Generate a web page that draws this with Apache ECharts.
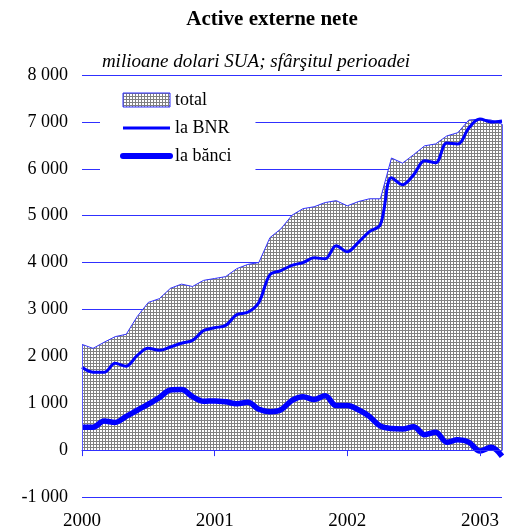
<!DOCTYPE html>
<html>
<head>
<meta charset="utf-8">
<script src="https://cdn.jsdelivr.net/npm/echarts@6/dist/echarts.min.js"></script>
<style>
html,body{margin:0;padding:0;background:#fff;}
#chart{width:511px;height:531px;}
</style>
</head>
<body>
<div id="chart"></div>
<script>
// End-of-month observations, Dec 1999 (index 0, at the "2000" tick) to Feb 2003
const yearLabels = ['2000', '2001', '2002', '2003'];
const yearTickIndex = [0, 12, 24, 36];
const seriesNames = ['total', 'la BNR', 'la bănci'];

const total = [2255, 2170, 2300, 2420, 2470, 2850, 3150, 3230, 3450, 3540,
  3490, 3620, 3660, 3700, 3870, 3960, 4000, 4530, 4720, 5010,
  5150, 5190, 5280, 5320, 5210, 5300, 5360, 5360, 6230, 6120,
  6300, 6490, 6530, 6700, 6770, 7040, 7060, 7040, 6950];

const laBNR = [1765, 1660, 1660, 1850, 1790, 2020, 2170, 2130, 2200, 2280,
  2340, 2550, 2610, 2660, 2890, 2940, 3150, 3740, 3830, 3940,
  4000, 4100, 4080, 4360, 4230, 4430, 4660, 4810, 5810, 5660,
  5870, 6170, 6130, 6550, 6530, 6870, 7060, 7000, 7020];

const laBanci = [490, 490, 620, 590, 720, 850, 980, 1120, 1280, 1290,
  1140, 1040, 1050, 1030, 990, 1020, 870, 820, 860, 1060,
  1140, 1080, 1160, 950, 950, 860, 720, 510, 460, 450,
  500, 330, 380, 170, 220, 170, -20, 60, -130];

function pairs(arr) { return arr.map(function (v, i) { return [i, v]; }); }
function fmt(v) {
  const s = Math.abs(v).toString().replace(/\B(?=(\d{3})+(?!\d))/g, ' ');
  return (v < 0 ? '-' : '') + s;
}

// hatch pattern (fine grey grid)
const pc = document.createElement('canvas');
pc.width = 3; pc.height = 3;
const g = pc.getContext('2d');
g.fillStyle = '#ffffff'; g.fillRect(0, 0, 3, 3);
g.fillStyle = '#808080'; g.fillRect(0, 0, 3, 1); g.fillRect(0, 0, 1, 3);
const pattern = { image: pc, repeat: 'repeat' };

const FONT = '"Liberation Serif", "Times New Roman", serif';
const BLUE = '#0000ff';
const GRID_BLUE = '#3030ff';
const last = total.length - 1;

const chart = echarts.init(document.getElementById('chart'), null, { renderer: 'canvas' });
chart.setOption({
  animation: false,
  backgroundColor: '#fff',
  title: [
    { text: 'Active externe nete', left: 272, top: 9, textAlign: 'center', padding: 0,
      textStyle: { fontFamily: FONT, fontSize: 21, fontWeight: 'bold', color: '#000' } },
    { text: 'milioane dolari SUA; sfârşitul perioadei', left: 256, top: 52, textAlign: 'center', padding: 0,
      textStyle: { fontFamily: FONT, fontSize: 19, fontStyle: 'italic', fontWeight: 'normal', color: '#000' } }
  ],
  legend: {
    orient: 'vertical', left: 100, top: 81,
    padding: [10, 24, 10, 20],
    backgroundColor: '#fff',
    itemWidth: 47, itemHeight: 14, itemGap: 10,
    textStyle: { fontFamily: FONT, fontSize: 18, color: '#000' },
    data: [
      { name: seriesNames[0], icon: 'rect', itemStyle: { color: pattern, borderColor: GRID_BLUE, borderWidth: 1, opacity: 1 } },
      { name: seriesNames[1], itemStyle: { opacity: 0 }, lineStyle: { width: 3, color: BLUE } },
      { name: seriesNames[2], itemStyle: { opacity: 0 }, lineStyle: { width: 6, color: BLUE, cap: 'round' } }
    ]
  },
  grid: { left: 82, right: 9, top: 75, bottom: 33, containLabel: false },
  xAxis: [
    { type: 'value', min: 0, max: last, position: 'bottom',
      axisLine: { show: false, onZero: false },
      axisTick: { show: false },
      splitLine: { show: false },
      axisLabel: { customValues: yearTickIndex, margin: 15, fontFamily: FONT, fontSize: 19, color: '#000',
        formatter: function (v) { const k = yearTickIndex.indexOf(v); return k >= 0 ? yearLabels[k] : ''; } } },
    { type: 'value', min: 0, max: last, position: 'top', z: 5,
      axisLine: { show: true, onZero: true, lineStyle: { color: GRID_BLUE, width: 1 } },
      axisTick: { show: true, inside: true, length: 6, customValues: yearTickIndex, lineStyle: { color: GRID_BLUE, width: 1 } },
      axisLabel: { show: false },
      splitLine: { show: false } }
  ],
  yAxis: {
    type: 'value', min: -1000, max: 8000, interval: 1000,
    axisLine: { show: false }, axisTick: { show: false },
    splitLine: { show: true, lineStyle: { color: GRID_BLUE, width: 1 } },
    axisLabel: { margin: 14, fontFamily: FONT, fontSize: 18, color: '#000', formatter: fmt }
  },
  series: [
    { name: seriesNames[0], type: 'line', data: pairs(total), symbol: 'none', z: 1,
      lineStyle: { color: '#3333ff', width: 1 },
      itemStyle: { color: '#3333ff' },
      areaStyle: { color: pattern, opacity: 1 },
      markLine: { silent: true, symbol: 'none', label: { show: false },
        lineStyle: { color: '#5a5aff', width: 1, type: 'solid' },
        data: [
          [{ coord: [0, 0] }, { coord: [0, total[0]] }],
          [{ coord: [last, 0] }, { coord: [last, total[last]] }]
        ] } },
    { name: seriesNames[1], type: 'line', data: pairs(laBNR), symbol: 'none', smooth: 0.35, z: 3,
      lineStyle: { color: BLUE, width: 3 }, itemStyle: { color: BLUE } },
    { name: seriesNames[2], type: 'line', data: pairs(laBanci), symbol: 'none', smooth: 0.35, z: 4,
      lineStyle: { color: BLUE, width: 5.5 }, itemStyle: { color: BLUE } }
  ]
});
</script>
</body>
</html>
